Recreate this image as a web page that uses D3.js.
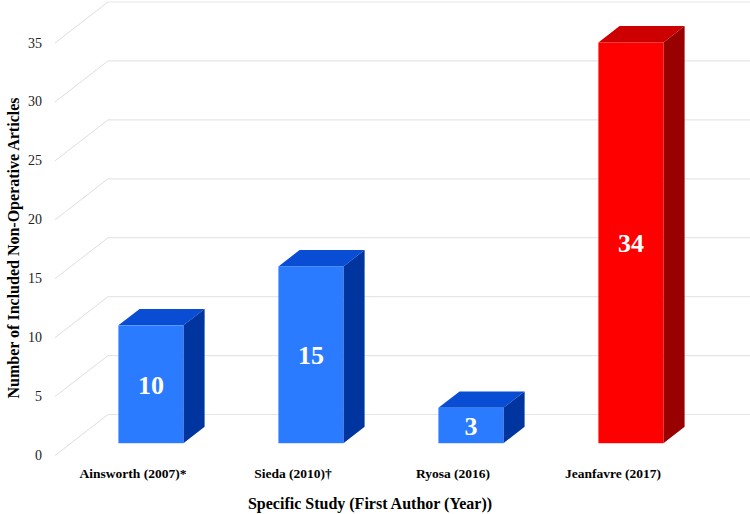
<!DOCTYPE html>
<html>
<head>
<meta charset="utf-8">
<script src="https://cdn.jsdelivr.net/npm/d3@7"></script>
<style>
  body { margin: 0; background: #fff; }
  text { font-family: "Liberation Serif", "Times New Roman", serif; }
</style>
</head>
<body>
<svg id="chart" width="750" height="514"></svg>
<script>
// Data
var studies = ['Ainsworth (2007)*', 'Sieda (2010)†', 'Ryosa (2016)', 'Jeanfavre (2017)'];
var articles = [10, 15, 3, 34];
var highlight = [false, false, false, true];
var yTicks = [0, 5, 10, 15, 20, 25, 30, 35];

// Layout
var width = 750, height = 514;
var depthX = 53, depthY = -41;       // full floor depth offset
var zFront = 0.3, zBack = 0.7;       // bar position inside depth

var svg = d3.select('#chart');

var x = d3.scaleBand().domain(studies).range([55, 695]).paddingInner(0).paddingOuter(0);
var y = d3.scaleLinear().domain([0, 35]).range([455.5, 43]);

var blue = { front: '#2a7bff', top: '#084dd4', side: '#00349f' };
var red  = { front: '#ff0000', top: '#cc0000', side: '#990000' };

// Grid: diagonal on the side, horizontal on back wall
var grid = svg.append('g');
yTicks.forEach(function(v){
  var x0 = 55, y0 = y(v);
  var x1 = x0 + depthX, y1 = y0 + depthY;
  grid.append('line')
    .attr('x1', x0).attr('y1', y0).attr('x2', x1).attr('y2', y1)
    .attr('stroke', '#dedede').attr('stroke-width', 1);
  grid.append('line')
    .attr('x1', x1).attr('y1', y1).attr('x2', width).attr('y2', y1)
    .attr('stroke', '#e4e6e8').attr('stroke-width', 1.2);
});

// Tick labels
svg.append('g').selectAll('text').data(yTicks).enter().append('text')
  .attr('x', 42).attr('y', function(d){ return y(d); })
  .attr('text-anchor', 'end').attr('dominant-baseline', 'central')
  .attr('font-size', 14).attr('fill', '#222')
  .text(function(d){ return d; });

// Bars
var barW = 65;
var bars = svg.append('g');
studies.forEach(function(s, i){
  var c = highlight[i] ? red : blue;
  var cx = x(s) + x.bandwidth()/2 + zFront*depthX;
  var xl = cx - barW/2, xr = cx + barW/2;
  var yb = y(0) + zFront*depthY, yt = y(articles[i]) + zFront*depthY;
  var dx = (zBack - zFront)*depthX, dy = (zBack - zFront)*depthY;

  // top
  bars.append('path')
    .attr('d', 'M'+xl+','+yt+' L'+(xl+dx)+','+(yt+dy)+' L'+(xr+dx)+','+(yt+dy)+' L'+xr+','+yt+' Z')
    .attr('fill', c.top);
  // side
  bars.append('path')
    .attr('d', 'M'+xr+','+yt+' L'+(xr+dx)+','+(yt+dy)+' L'+(xr+dx)+','+(yb+dy)+' L'+xr+','+yb+' Z')
    .attr('fill', c.side);
  // front
  bars.append('rect')
    .attr('x', xl).attr('y', yt).attr('width', barW).attr('height', yb - yt)
    .attr('fill', c.front);
  // value label
  bars.append('text')
    .attr('x', cx).attr('y', (yt + yb)/2 + 1)
    .attr('text-anchor', 'middle').attr('dominant-baseline', 'central')
    .attr('font-size', 26).attr('font-weight', 'bold').attr('fill', '#fff')
    .text(articles[i]);
});

// Category labels
svg.append('g').selectAll('text').data(studies).enter().append('text')
  .attr('x', function(d){ return x(d) + x.bandwidth()/2 - 2; })
  .attr('y', 473)
  .attr('text-anchor', 'middle').attr('dominant-baseline', 'central')
  .attr('font-size', 13.5).attr('font-weight', 'bold').attr('fill', '#000')
  .text(function(d){ return d; });

// Axis titles
svg.append('text')
  .attr('x', 370).attr('y', 503)
  .attr('text-anchor', 'middle').attr('dominant-baseline', 'central')
  .attr('font-size', 16).attr('font-weight', 'bold').attr('fill', '#000')
  .text('Specific Study (First Author (Year))');

svg.append('text')
  .attr('transform', 'translate(13,248) rotate(-90)')
  .attr('text-anchor', 'middle').attr('dominant-baseline', 'central')
  .attr('font-size', 16).attr('font-weight', 'bold').attr('fill', '#000')
  .text('Number of Included Non-Operative Articles');
</script>
</body>
</html>
